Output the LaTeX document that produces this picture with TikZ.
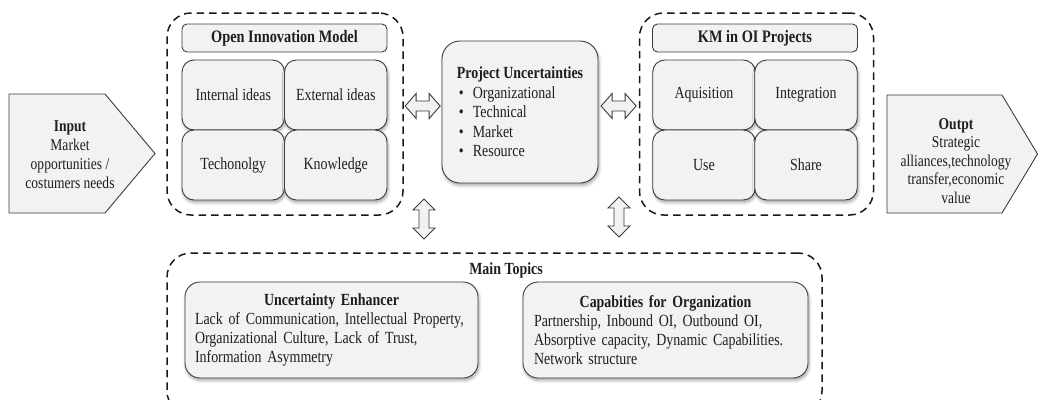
\documentclass[tikz,border=0pt]{standalone}
\usepackage{fontspec}
\setmainfont{Liberation Serif}[FakeStretch=0.82]
\usetikzlibrary{shadows.blur,calc}
\definecolor{boxfill}{HTML}{F2F2F2}
\definecolor{boxline}{HTML}{3C3C3C}
\definecolor{ink}{HTML}{1E1E1E}

\begin{document}
\begin{tikzpicture}[x=1pt,y=-1pt,
  every node/.style={text=ink, font=\fontsize{17}{19}\selectfont},
  softshadow/.style={blur shadow={shadow xshift=1pt, shadow yshift=-2.5pt,
      shadow blur radius=3pt, shadow blur steps=6, shadow opacity=35}},
  cell/.style={draw=boxline, fill=boxfill, line width=0.9pt, rounded corners=12pt,
      minimum width=102.5pt, minimum height=70pt, inner sep=0pt, softshadow},
  headbox/.style={draw=boxline, fill=boxfill, line width=0.9pt, rounded corners=5pt,
      minimum width=205pt, minimum height=28pt, inner sep=0pt,
      font=\fontsize{17.5}{19}\selectfont\bfseries},
  region/.style={draw=black!90, line width=1.5pt, dash pattern=on 7.5pt off 5pt,
      rounded corners=24pt, inner sep=0pt},
  bigbox/.style={draw=boxline, fill=boxfill, line width=0.9pt, rounded corners=18pt,
      inner sep=0pt, softshadow},
  pent/.style={draw=boxline, fill=boxfill, line width=0.9pt},
  arrowshape/.style={draw=boxline, fill=boxfill, line width=0.9pt, line join=miter},
  pics/dblarrow/.style n args={2}{code={
    \draw[arrowshape] (-#1,0) -- (-#1+11,#2) -- (-#1+11,5) -- (#1-11,5) -- (#1-11,#2)
      -- (#1,0) -- (#1-11,-#2) -- (#1-11,-5) -- (-#1+11,-5) -- (-#1+11,-#2) -- cycle;}},
  ]
\useasboundingbox (0,0) rectangle (1038,399);
\clip (0,0) rectangle (1038,399);

% Input and output pentagons
\draw[pent] (9,94) -- (105,94) -- (155,153.5) -- (105,213) -- (9,213) -- cycle;
\node[align=center, font=\fontsize{16.5}{19}\selectfont] (inp) at (70,154.5)
  {\textbf{Input}\\Market\\opportunities /\\costumers needs};
\draw[pent] (887,95) -- (1002,95) -- (1037.5,154) -- (1002,213) -- (887,213) -- cycle;
\node[align=center, font=\fontsize{16.5}{18.5}\selectfont] (outp) at (956,161)
  {\textbf{Outpt}\\Strategic\\alliances,technology\\transfer,economic\\value};

% Open innovation model group
\node[region, minimum width=236pt, minimum height=202pt] (oim) at (285,114) {};
\node[headbox] (oimt) at (284.5,38) {Open Innovation Model};
\node[cell] (ii) at (233.25,95) {Internal ideas};
\node[cell] (ei) at (335.75,95) {External ideas};
\node[cell] (te) at (233.25,165) {Techonolgy};
\node[cell] (kn) at (335.75,165) {Knowledge};

% KM group
\node[region, minimum width=234pt, minimum height=202pt] (km) at (756.5,114) {};
\node[headbox] (kmt) at (755,38) {KM in OI Projects};
\node[cell] (aq) at (704,95) {Aquisition};
\node[cell] (in) at (806,95) {Integration};
\node[cell] (us) at (704,165) {Use};
\node[cell] (sh) at (806,165) {Share};

% Project uncertainties
\node[bigbox, minimum width=156pt, minimum height=142pt, align=left,
      font=\fontsize{17}{19.5}\selectfont] (pu) at (520,112)
  {\textbf{Project Uncertainties}\\
   \hspace*{2pt}\makebox[14pt][l]{\textbullet}Organizational\\
   \hspace*{2pt}\makebox[14pt][l]{\textbullet}Technical\\
   \hspace*{2pt}\makebox[14pt][l]{\textbullet}Market\\
   \hspace*{2pt}\makebox[14pt][l]{\textbullet}Resource};

% Main topics group
\node[region, minimum width=655pt, minimum height=162pt] (topics) at (494.5,334) {};
\node[font=\fontsize{17}{19}\selectfont\bfseries] (mt) at (506,270) {Main Topics};
\node[bigbox, rounded corners=15pt, minimum width=293pt, minimum height=96pt,
      text width=273pt] (ue) at (331.5,330)
  {{\centering\textbf{Uncertainty Enhancer}\par}
   \raggedright Lack of Communication, Intellectual Property,\\
   Organizational Culture, Lack of Trust,\\
   Information Asymmetry\par};
\node[bigbox, rounded corners=15pt, minimum width=285pt, minimum height=96pt,
      text width=263pt] (cap) at (665.5,330)
  {{\centering\textbf{Capabities for Organization}\par}
   \raggedright Partnership, Inbound OI, Outbound OI,\\
   Absorptive capacity, Dynamic Capabilities.\\
   Network structure\par};

% Double arrows between the groups
\pic at ($(oim.east)!0.5!(pu.west) + (0,-7)$) {dblarrow={17.5}{12.5}};
\pic at ($(pu.east)!0.5!(km.west) + (0,-7)$) {dblarrow={17.5}{12.5}};
\pic[rotate=90] at (424,219) {dblarrow={20}{11}};
\pic[rotate=90] at (619,217) {dblarrow={20}{11}};
\end{tikzpicture}
\end{document}
